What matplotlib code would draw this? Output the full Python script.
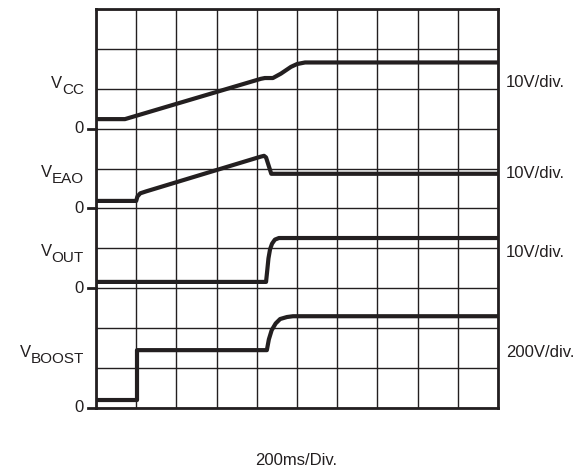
""" start-up waveforms: VCC, VEAO, VOUT, VBOOST on a 10x10 scope grid """
import matplotlib
matplotlib.use("Agg")
import matplotlib.pyplot as plt

plt.rcParams['font.family'] = ['Liberation Sans', 'DejaVu Sans']

W, H, DPI = 578, 468, 100
INK = '#231f20'

# traces, in grid divisions (x: 200ms/div, y: divisions from bottom)
vcc_x = [0, 0.72, 4.1, 4.2, 4.4, 4.6, 4.85, 5.0, 5.2, 10]
vcc_y = [7.24, 7.24, 8.25, 8.27, 8.27, 8.38, 8.55, 8.62, 8.66, 8.66]

veao_x = [0, 1.0, 1.03, 1.1, 1.25, 4.1, 4.18, 4.23, 4.36, 10]
veao_y = [5.19, 5.19, 5.3, 5.38, 5.43, 6.3, 6.32, 6.28, 5.87, 5.87]

vout_x = [0, 4.23, 4.26, 4.29, 4.33, 4.38, 4.45, 4.55, 10]
vout_y = [3.16, 3.16, 3.45, 3.75, 3.98, 4.12, 4.22, 4.26, 4.26]

vboost_x = [0, 1.02, 1.02, 4.25, 4.3, 4.37, 4.47, 4.58, 4.75, 4.9, 10]
vboost_y = [0.2, 0.2, 1.45, 1.45, 1.72, 1.95, 2.12, 2.23, 2.28, 2.3, 2.3]

traces = [(vcc_x, vcc_y), (veao_x, veao_y), (vout_x, vout_y), (vboost_x, vboost_y)]

# channel labels: name, subscript, zero level (div)
names = ['CC', 'EAO', 'OUT', 'BOOST']
zero_levels = [7, 5, 3, 0]
scales = ['10V/div.', '10V/div.', '10V/div.', '200V/div.']
time_label = '200ms/Div.'

# label placement in picture pixels
sub_base_px = [94, 183, 262, 363]
scale_base_px = [87, 178, 257, 357]


def fx(px):
    return px / W


def fy(py):
    return 1 - py / H


fig = plt.figure(figsize=(W / DPI, H / DPI), dpi=DPI)
ax = fig.add_axes([fx(96), fy(408), (498 - 96) / W, (408 - 9) / H])
ax.set_xlim(0, 10)
ax.set_ylim(0, 10)
ax.set_xticks(range(11))
ax.set_yticks(range(11))
ax.tick_params(left=False, bottom=False, labelleft=False, labelbottom=False)
ax.grid(True, color=INK, lw=1.0)
for s in ax.spines.values():
    s.set_linewidth(2.0)
    s.set_color(INK)

for x, y in traces:
    ax.plot(x, y, color=INK, lw=3.0, solid_joinstyle='round',
            solid_capstyle='butt', zorder=3)

# zero markers and labels
for z in zero_levels:
    ax.plot([-0.2, 0], [z, z], color=INK, lw=2.0, clip_on=False)
    ax.text(-0.3, z, '0', ha='right', va='center', fontsize=12, color=INK)

for name, base in zip(names, sub_base_px):
    sub = fig.text(fx(84), fy(base), name, ha='right', va='baseline',
                   fontsize=11, color=INK)
    ax.annotate('V', xy=(0, 0), xycoords=sub, xytext=(0, 4.0),
                textcoords='offset points', ha='right', va='bottom',
                fontsize=12, color=INK, annotation_clip=False)

for lab, base in zip(scales, scale_base_px):
    fig.text(fx(506), fy(base), lab, ha='left', va='baseline',
             fontsize=12, color=INK)

fig.text(fx(296), fy(465), time_label, ha='center', va='baseline',
         fontsize=12, color=INK)

fig.savefig('out.png', dpi=DPI)
